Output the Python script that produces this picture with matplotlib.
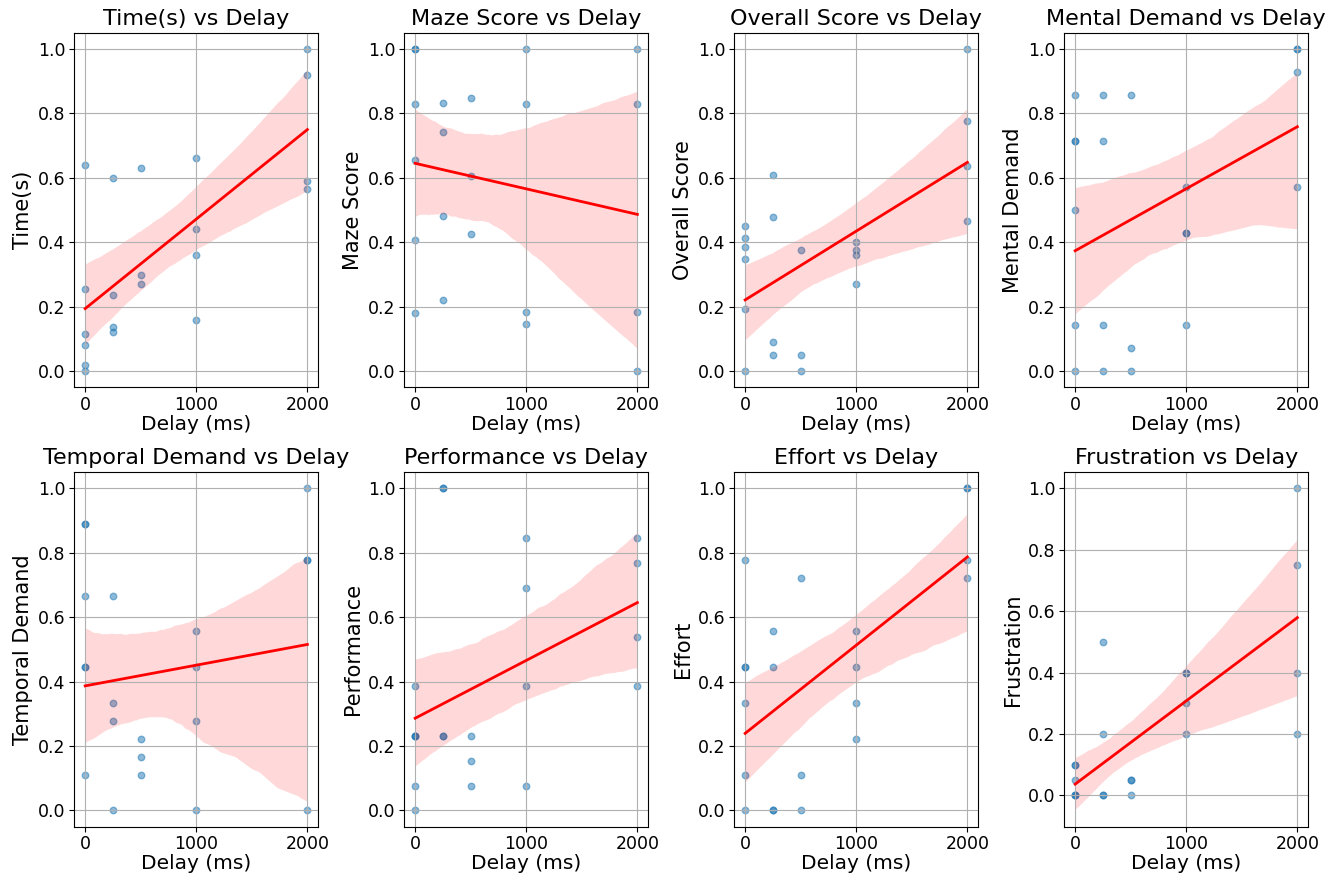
import numpy as np
import pandas as pd
import matplotlib
matplotlib.use("Agg")
import matplotlib.pyplot as plt
import seaborn as sns

# delay of each participant/trial (ms)
delay = [0, 0, 0, 0, 0, 0,
         250, 250, 250, 250,
         500, 500, 500,
         1000, 1000, 1000, 1000,
         2000, 2000, 2000, 2000]

# normalised scores, same order as delay
time_s = [0.641, 0.255, 0.115, 0.081, 0.019, 0.0,
          0.601, 0.235, 0.137, 0.122,
          0.631, 0.298, 0.272,
          0.661, 0.441, 0.362, 0.158,
          1.0, 0.921, 0.590, 0.567]
maze_score = [1.0, 1.0, 0.829, 0.657, 0.407, 0.181,
              0.834, 0.742, 0.482, 0.220,
              0.848, 0.606, 0.425,
              1.0, 0.829, 0.183, 0.147,
              1.0, 0.829, 0.183, 0.0]
overall_score = [0.452, 0.413, 0.387, 0.349, 0.193, 0.0,
                 0.609, 0.480, 0.089, 0.051,
                 0.377, 0.051, 0.0,
                 0.402, 0.377, 0.362, 0.270,
                 1.0, 0.778, 0.636, 0.466]
mental = [0.857, 0.714, 0.714, 0.5, 0.143, 0.0,
          0.857, 0.714, 0.143, 0.0,
          0.857, 0.071, 0.0,
          0.571, 0.429, 0.429, 0.143,
          1.0, 1.0, 0.929, 0.571]
temporal = [0.889, 0.889, 0.667, 0.444, 0.444, 0.111,
            0.667, 0.333, 0.278, 0.0,
            0.222, 0.167, 0.111,
            0.556, 0.444, 0.278, 0.0,
            1.0, 0.778, 0.778, 0.0]
performance = [0.385, 0.231, 0.231, 0.231, 0.077, 0.0,
               1.0, 1.0, 0.231, 0.231,
               0.231, 0.154, 0.077,
               0.846, 0.692, 0.385, 0.077,
               0.846, 0.769, 0.538, 0.385]
effort = [0.778, 0.444, 0.444, 0.333, 0.111, 0.0,
          0.556, 0.444, 0.0, 0.0,
          0.722, 0.111, 0.0,
          0.556, 0.444, 0.333, 0.222,
          1.0, 1.0, 0.778, 0.722]
frustration = [0.1, 0.1, 0.05, 0.0, 0.0, 0.0,
               0.5, 0.2, 0.0, 0.0,
               0.05, 0.05, 0.0,
               0.4, 0.4, 0.3, 0.2,
               1.0, 0.75, 0.4, 0.2]

metrics = ["Time(s)", "Maze Score", "Overall Score", "Mental Demand",
           "Temporal Demand", "Performance", "Effort", "Frustration"]

df = pd.DataFrame({
    "Delay (ms)": delay,
    "Time(s)": time_s,
    "Maze Score": maze_score,
    "Overall Score": overall_score,
    "Mental Demand": mental,
    "Temporal Demand": temporal,
    "Performance": performance,
    "Effort": effort,
    "Frustration": frustration,
})

fig, axes = plt.subplots(2, 4, figsize=(13.39, 8.77), dpi=100)
fig.subplots_adjust(left=0.0553, right=0.9772, top=0.9624, bottom=0.0575,
                    wspace=0.35, hspace=0.24)

for ax, m in zip(axes.flat, metrics):
    sns.regplot(data=df, x="Delay (ms)", y=m, ax=ax, seed=0,
                scatter_kws={"alpha": 0.5, "s": 22},
                line_kws={"color": "red", "lw": 2})
    # band colour to match the red fit line
    for coll in ax.collections[1:]:
        coll.set_facecolor("red")
        coll.set_alpha(0.15)
    ax.set_title(f"{m} vs Delay", fontsize=16)
    ax.set_xlabel("Delay (ms)", fontsize=14.5, labelpad=1)
    ax.set_ylabel(m, fontsize=15)
    ax.tick_params(labelsize=12.5, pad=2.5)
    ax.set_xticks([0, 1000, 2000])
    ax.grid(True)

plt.savefig("out.png", dpi=100)
